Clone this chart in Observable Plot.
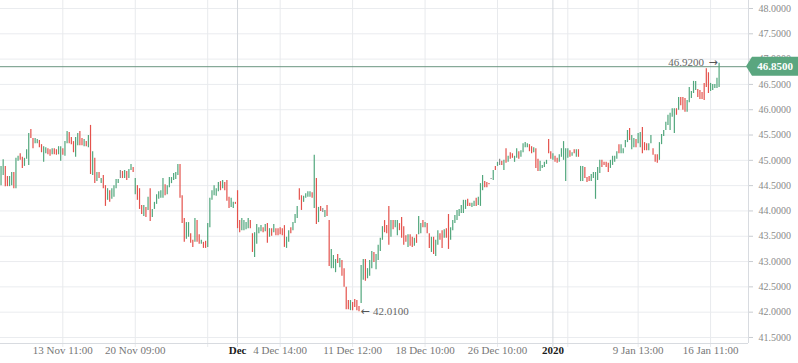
<!DOCTYPE html>
<html>
<head>
<meta charset="utf-8">
<script src="https://cdn.jsdelivr.net/npm/d3@7"></script>
<script src="https://cdn.jsdelivr.net/npm/@observablehq/plot@0.6"></script>
<style>
  html, body { margin: 0; padding: 0; background: #ffffff; }
  #chart svg { display: block; }
</style>
</head>
<body>
<div id="chart"></div>
<script>
// ---- data ----
const high = [
  44.88,45.01,44.88,44.68,44.68,44.76,44.76,45.04,45.08,45.13,
  45.06,45.04,45.21,45.53,45.61,45.43,45.43,45.41,45.39,45.31,
  45.27,45.25,45.23,45.21,45.23,45.23,45.21,45.27,45.27,45.23,
  45.37,45.57,45.55,45.45,45.37,45.45,45.53,45.57,45.43,45.41,
  45.37,45.49,45.69,45.17,45.04,44.76,44.76,44.64,44.70,44.50,
  44.44,44.40,44.44,44.50,44.62,44.62,44.80,44.78,44.80,
  44.78,44.82,44.92,44.86,44.64,44.50,44.44,44.11,44.11,44.07,
  44.27,44.44,44.03,44.17,44.32,44.38,44.40,44.64,44.52,44.50,
  44.66,44.66,44.74,44.76,44.92,44.92,44.30,43.85,43.77,43.77,
  43.55,43.42,43.85,43.81,43.53,43.42,43.38,43.40,43.75,44.25,
  44.40,44.50,44.44,44.56,44.58,44.60,44.56,44.60,44.27,44.25,
  44.17,44.17,44.40,43.81,43.85,43.81,43.77,43.85,
  43.81,43.55,43.57,43.73,43.67,43.71,43.67,43.73,43.75,43.65,
  43.65,43.73,43.65,43.65,43.67,43.65,43.71,43.48,43.61,43.67,
  43.77,43.93,44.09,44.44,44.30,44.29,44.34,44.38,44.38,44.36,
  45.10,44.64,44.07,44.09,44.05,44.01,44.11,43.81,43.24,43.12,
  43.04,43.14,43.06,43.02,42.86,42.49,42.23,42.23,42.19,42.25,
  42.23,42.11,42.92,43.04,43.04,42.86,43.02,43.20,43.18,
  43.14,43.32,43.46,43.69,43.81,43.71,44.09,43.81,43.81,43.81,
  43.81,43.75,43.87,43.69,43.51,43.53,43.53,43.48,43.46,43.53,
  43.89,43.75,43.81,43.77,43.75,43.55,43.48,43.48,43.42,43.61,
  43.55,43.61,43.63,43.65,43.93,43.67,43.81,43.91,44.01,44.03,
  44.11,44.21,44.21,44.23,44.15,44.15,44.19,44.25,44.27,44.54,
  44.70,44.58,44.56,44.54,44.64,
  44.80,44.88,44.96,45.02,44.98,45.00,45.23,45.08,45.15,45.13,
  45.08,45.23,45.17,45.19,45.33,45.35,45.33,45.31,45.27,45.25,
  45.23,45.02,44.98,44.90,44.96,45.00,45.41,45.17,45.13,45.08,
  45.04,45.11,45.23,45.37,45.23,45.23,45.19,45.15,45.21,45.21,
  45.21,44.88,44.88,44.86,44.66,44.68,44.72,44.76,44.76,44.86,
  45.00,45.00,44.96,44.96,44.94,45.00,45.08,45.08,45.17,45.31,
  45.31,45.23,
  45.39,45.59,45.63,45.49,45.43,45.41,45.53,45.55,45.65,45.35,
  45.33,45.33,45.49,45.23,45.11,45.11,45.35,45.51,45.59,45.75,
  45.89,45.93,46.02,46.02,46.02,46.24,46.24,46.24,46.22,46.18,
  46.44,46.36,46.56,46.56,46.40,46.38,46.34,46.52,46.81,46.73,
  46.52,46.50,46.50,46.62,46.92
];
const low = [
  44.50,44.70,44.48,44.48,44.48,44.50,44.44,44.44,44.98,45.00,
  44.84,44.88,45.02,44.90,45.43,45.23,45.33,45.33,45.25,45.15,
  44.96,45.13,45.11,45.08,45.11,45.11,45.10,45.11,44.98,45.10,
  45.08,45.33,45.33,45.31,45.15,45.06,45.29,45.29,45.29,45.27,
  45.27,45.25,44.72,44.70,44.54,44.58,44.64,44.54,44.44,44.09,
  44.21,44.17,44.23,44.27,44.44,44.54,44.64,44.64,44.64,
  44.60,44.64,44.80,44.76,44.32,44.21,44.03,43.93,43.89,43.87,
  44.01,43.79,43.87,44.03,44.13,44.23,44.25,44.25,44.30,44.32,
  44.46,44.54,44.60,44.62,44.70,44.25,43.75,43.38,43.44,43.48,
  43.36,43.28,43.38,43.38,43.34,43.34,43.26,43.26,43.28,43.67,
  44.21,44.30,44.29,44.38,44.40,44.44,44.40,44.19,44.05,44.07,
  44.05,44.13,43.65,43.57,43.61,43.61,43.63,43.65,
  43.65,43.18,43.08,43.34,43.55,43.59,43.57,43.59,43.36,43.48,
  43.50,43.57,43.51,43.51,43.53,43.51,43.28,43.26,43.38,43.55,
  43.61,43.75,43.85,44.21,44.01,44.17,44.25,44.27,44.27,44.25,
  44.05,43.73,43.77,43.99,43.97,43.87,43.89,42.90,42.86,42.86,
  42.78,42.96,42.88,42.71,42.49,42.05,42.05,42.03,42.03,42.09,
  42.03,42.01,42.17,42.63,42.61,42.66,42.71,42.86,42.98,
  42.84,43.02,43.20,43.42,43.57,43.55,43.32,43.48,43.63,43.67,
  43.51,43.61,43.46,43.32,43.38,43.28,43.30,43.28,43.30,43.36,
  43.53,43.55,43.67,43.67,43.55,43.26,43.18,43.14,43.10,43.32,
  43.42,43.26,43.46,43.46,43.24,43.42,43.61,43.75,43.81,43.89,
  43.95,43.95,44.03,44.09,44.09,44.07,44.09,44.09,44.11,44.09,
  44.40,44.46,44.46,44.52,44.62,
  44.60,44.80,44.88,44.90,44.90,44.80,44.94,44.96,45.02,45.04,
  44.96,45.04,45.02,45.06,45.15,45.25,45.25,45.17,45.13,45.15,
  44.84,44.78,44.78,44.84,44.86,44.92,45.13,45.02,45.00,44.96,
  44.94,44.96,45.06,45.00,44.58,45.04,45.06,45.08,45.13,45.06,
  45.06,44.58,44.58,44.64,44.56,44.58,44.58,44.64,44.23,44.60,
  44.74,44.86,44.90,44.86,44.76,44.84,44.90,44.96,45.02,45.13,
  45.13,45.13,
  45.25,45.35,45.39,45.21,45.25,45.25,45.33,45.25,45.13,45.19,
  45.19,45.19,45.33,45.10,44.96,44.94,45.00,45.31,45.47,45.59,
  45.69,45.59,45.85,45.53,45.89,45.99,46.08,45.99,45.95,45.95,
  46.14,46.22,46.32,46.38,46.24,46.20,46.20,46.18,46.44,46.32,
  46.36,46.38,46.42,46.42,46.44
];
// u = close above open, d = close below open, n = unchanged
const direction = (
  "uudduuduud" + "duuudduudd" + "uuddudduud" + "uuddduuddu" + "dududududd" + "uduuuundu" +
  "duududddud" + "uduuuuuudu" + "uuuuuddduu" + "dduddudduu" + "uuuududddu" + "uddduuuu" +
  "dduuuududu" + "duddddduud" + "uuudduuuud" + "ududnudduu" + "ududdddudd" + "dduuduuud" +
  "uuuudddudu" + "udddduddud" + "uududduduu" + "ddudduuuuu" + "uuudduuduu" + "udddn" +
  "udundududd" + "uuduuuuddu" + "dduuuuddud" + "duuuuududu" + "duuddduuuu" + "udddduuuud" + "uu" +
  "uuduuduudd" + "duuddduuuu" + "uuuududddu" + "uuuudddddd" + "uuuuu"
).split("");
const lastClose = 46.85;

const yTicks = [41.5, 42, 42.5, 43, 43.5, 44, 44.5, 45, 45.5, 46, 46.5, 47, 47.5, 48];
const xTickIndex = [29, 63, 97, 111, 131, 165, 199, 233, 259, 266, 299, 333];
const xTickLabel = ["13 Nov 11:00", "20 Nov 09:00", "", "Dec", "4 Dec 14:00", "11 Dec 12:00",
                    "18 Dec 10:00", "26 Dec 10:00", "2020", "", "9 Jan 13:00", "16 Jan 11:00"];
const xTickMajor = [false, false, false, true, false, false, false, false, true, false, false, false];

// ---- build tables ----
const bars = high.map((h, i) => ({i, high: h, low: low[i], dir: direction[i]}));
const xTicks = xTickIndex.map((i, k) => ({i, label: xTickLabel[k], major: xTickMajor[k]}));
const maxBar = bars.reduce((a, b) => (b.high > a.high ? b : a));
const minBar = bars.reduce((a, b) => (b.low < a.low ? b : a));

const colors = {u: "#52a77d", d: "#e4524c", n: "#8c8c8c"};
const fontFamily = "'Liberation Serif', 'DejaVu Serif', serif";
const arrowFont = "'DejaVu Sans', sans-serif";

const xDomain = [-0.25, 350.8];
const yDomain = [41.381, 48.158];

function priceTag(index, scales, values, dims) {
  const y = scales.y(lastClose);
  const x0 = dims.width - dims.marginRight;
  const g = d3.create("svg:g");
  const h = 9.5;
  g.append("path")
    .attr("d", `M${x0 - 2},${y} L${x0 + 4},${y - h} L${dims.width},${y - h} L${dims.width},${y + h} L${x0 + 4},${y + h} Z`)
    .attr("fill", "#5aa67f");
  g.append("text")
    .attr("x", x0 + 27).attr("y", y)
    .attr("dy", "0.35em")
    .attr("text-anchor", "middle")
    .attr("fill", "#ffffff")
    .attr("font-weight", "bold")
    .attr("font-size", 11)
    .attr("font-family", fontFamily)
    .text(lastClose.toFixed(4));
  return g.node();
}

const chart = Plot.plot({
  width: 798,
  height: 363,
  marginLeft: 0,
  marginRight: 50,
  marginTop: 0,
  marginBottom: 20,
  style: {background: "#ffffff", color: "#8a8a8a", fontFamily, fontSize: "10px", overflow: "visible"},
  x: {type: "linear", domain: xDomain, axis: null},
  y: {domain: yDomain, axis: null},
  marks: [
    Plot.ruleY(yTicks, {stroke: "#eaecef"}),
    Plot.ruleX(xTicks, {x: "i", stroke: d => (d.major ? "#d3d7dc" : "#e8eaed"), insetBottom: -4}),
    Plot.ruleY([yDomain[0]], {stroke: "#d8dbe0"}),
    Plot.ruleX([xDomain[1]], {stroke: "#d8dbe0"}),
    Plot.axisY({anchor: "right", ticks: yTicks, tickSize: 4, tickPadding: 6,
                tickFormat: d => d.toFixed(4), fontSize: 10, stroke: "#c8ccd1", fill: "#8a8a8a"}),
    Plot.text(xTicks.filter(d => !d.major), {x: "i", text: "label", frameAnchor: "bottom", dy: 10,
                fill: "#777777", fontSize: 11}),
    Plot.text(xTicks.filter(d => d.major), {x: "i", text: "label", frameAnchor: "bottom", dy: 10,
                fill: "#1a1a1a", fontSize: 11, fontWeight: "bold"}),
    Plot.ruleY([lastClose], {stroke: "#6a9580", strokeWidth: 1}),
    Plot.ruleX(bars, {x: "i", y1: "low", y2: "high", stroke: d => colors[d.dir], strokeWidth: 1.2}),
    // max annotation: value then arrow
    Plot.text([maxBar], {x: "i", y: "high", text: d => d.high.toFixed(4), textAnchor: "end",
                dx: -15, dy: -1, fill: "#666666", fontSize: 11}),
    Plot.text([maxBar], {x: "i", y: "high", text: () => "\u2192", textAnchor: "end",
                dx: -1.5, dy: -1, fill: "#555555", fontSize: 11, fontFamily: arrowFont}),
    // min annotation: arrow then value
    Plot.text([minBar], {x: "i", y: "low", text: () => "\u2190", textAnchor: "start",
                dx: 1.5, fill: "#555555", fontSize: 11, fontFamily: arrowFont}),
    Plot.text([minBar], {x: "i", y: "low", text: d => d.low.toFixed(4), textAnchor: "start",
                dx: 14, fill: "#666666", fontSize: 11}),
    priceTag
  ]
});

document.getElementById("chart").append(chart);
</script>
</body>
</html>
